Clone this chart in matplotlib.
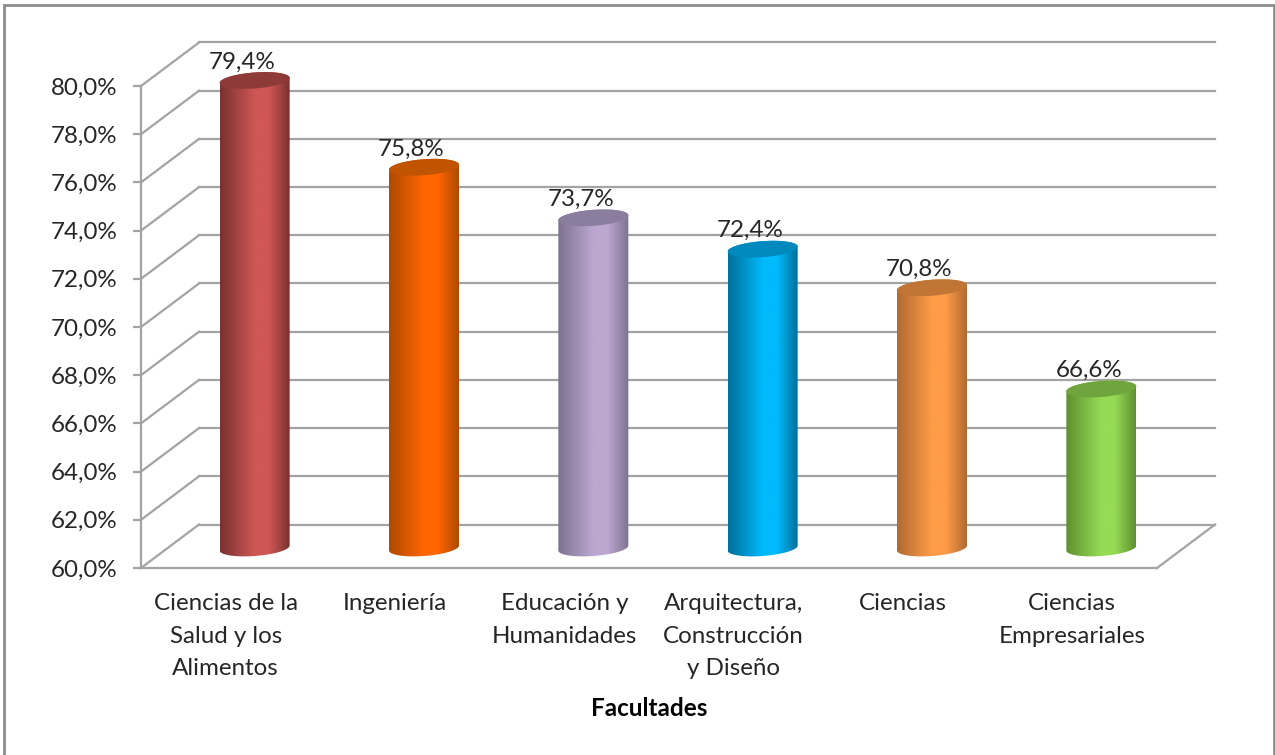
import numpy as np
import matplotlib.pyplot as plt
from matplotlib.colors import LinearSegmentedColormap
from matplotlib.patches import Rectangle, PathPatch
from matplotlib.path import Path

plt.rcParams['font.family'] = ['Lato', 'DejaVu Sans']

facultades = ["Ciencias de la\nSalud y los\nAlimentos", "Ingeniería", "Educación y\nHumanidades",
              "Arquitectura,\nConstrucción\ny Diseño", "Ciencias", "Ciencias\nEmpresariales"]
valores = [79.4, 75.8, 73.7, 72.4, 70.8, 66.6]
etiquetas = ["79,4%", "75,8%", "73,7%", "72,4%", "70,8%", "66,6%"]
yticks = [60, 62, 64, 66, 68, 70, 72, 74, 76, 78, 80]
yticklabels = ["60,0%", "62,0%", "64,0%", "66,0%", "68,0%", "70,0%", "72,0%", "74,0%", "76,0%", "78,0%", "80,0%"]

# side colour, centre colour, top colour
lados = ["#7A3230", "#B04A00", "#7F7290", "#00709A", "#B06A30", "#5F9030"]
centros = ["#CF5755", "#FF6600", "#BBA7D0", "#00BAFC", "#FF9C48", "#95DB55"]
tapas = ["#8E3A38", "#C05400", "#8B7D9E", "#0089BC", "#C07534", "#70A53D"]

W, H = 1275, 755
gris = "#A3A3A3"

fig = plt.figure(figsize=(W / 100, H / 100), dpi=100)
fig.patches.append(Rectangle((4 / W, -0.01), (1274 - 4) / W, 1.01 - 5 / H, transform=fig.transFigure,
                             fill=False, ec="#8C8C8C", lw=2))

# axes = front plane of the 3D box
left, right, bottom, top = 141, 1157, 568, 86
ax = fig.add_axes([left / W, 1 - bottom / H, (right - left) / W, (bottom - top) / H])
px_x = (right - left) / 6
px_y = (bottom - top) / 20
depth_x = 58 / px_x
depth_y = 43.5 / px_y

# walls
for v in yticks:
    ax.plot([-0.5, -0.5 + depth_x], [v, v + depth_y], color=gris, lw=1.6, clip_on=False, zorder=1)
    ax.plot([-0.5 + depth_x, 5.5 + depth_x], [v + depth_y, v + depth_y], color=gris, lw=1.6, clip_on=False, zorder=1)
ax.plot([5.5, 5.5 + depth_x], [60, 60 + depth_y], color=gris, lw=1.6, clip_on=False, zorder=1)

# cylinders
t = np.linspace(0, 2 * np.pi, 100)
a = 35 / px_x
b = 8 / px_y
s = 2.5 / px_y
off_x = 0.5 * depth_x
off_y = 20 / px_y
for i, v in enumerate(valores):
    cx = i + off_x
    base = 60 + off_y
    cima = v + off_y
    low = t[t >= np.pi]
    # body outline: front of bottom ellipse then back edge of top ellipse
    xb = cx + a * np.cos(low)
    yb = base + b * np.sin(low) + s * np.cos(low)
    up = t[t <= np.pi]
    xt = cx + a * np.cos(up)
    yt = cima + b * np.sin(up) + s * np.cos(up)
    verts = np.column_stack([np.r_[xb, xt], np.r_[yb, yt]])
    clip = PathPatch(Path(np.r_[verts, verts[:1]]), transform=ax.transData, fc="none", ec="none")
    ax.add_patch(clip)
    cmap = LinearSegmentedColormap.from_list("c", [lados[i], centros[i], centros[i], lados[i]])
    grad = np.interp(np.linspace(0, 1, 128), [0, 0.5, 0.7, 1], [0, 1 / 3, 2 / 3, 1])
    im = ax.imshow(grad[None, :], extent=[cx - a, cx + a, 59, 82], aspect="auto", cmap=cmap,
                   vmin=0, vmax=1, zorder=3 + i)
    im.set_clip_path(clip)
    im.set_clip_box(fig.bbox)
    ax.fill(cx + a * np.cos(t), cima + b * np.sin(t) + s * np.cos(t), color=tapas[i], lw=0,
            zorder=3 + i, clip_on=False)
    ax.annotate(etiquetas[i], (cx, cima), xytext=(-9, 13.2), textcoords="offset points", ha="center",
                va="center", fontsize=17.4, color="#262626", zorder=20, annotation_clip=False)

ax.set_xlim(-0.5, 5.5)
ax.set_ylim(60, 80)
ax.set_yticks(yticks)
ax.set_yticklabels(yticklabels)
ax.set_xticks(range(6))
ax.set_xticklabels(facultades, linespacing=1.68)
ax.tick_params(axis="y", length=6, width=1.6, color=gris, labelsize=17.4, labelcolor="#262626", pad=11)
ax.tick_params(axis="x", length=0, labelsize=17.4, labelcolor="#262626", pad=18)
ax.set_xlabel("Facultades", fontweight="bold", fontsize=17.5, labelpad=13, color="black")
for name in ["top", "right"]:
    ax.spines[name].set_visible(False)
for name in ["left", "bottom"]:
    ax.spines[name].set_color(gris)
    ax.spines[name].set_linewidth(1.6)
ax.patch.set_alpha(0)

fig.savefig("out.png", dpi=100)
